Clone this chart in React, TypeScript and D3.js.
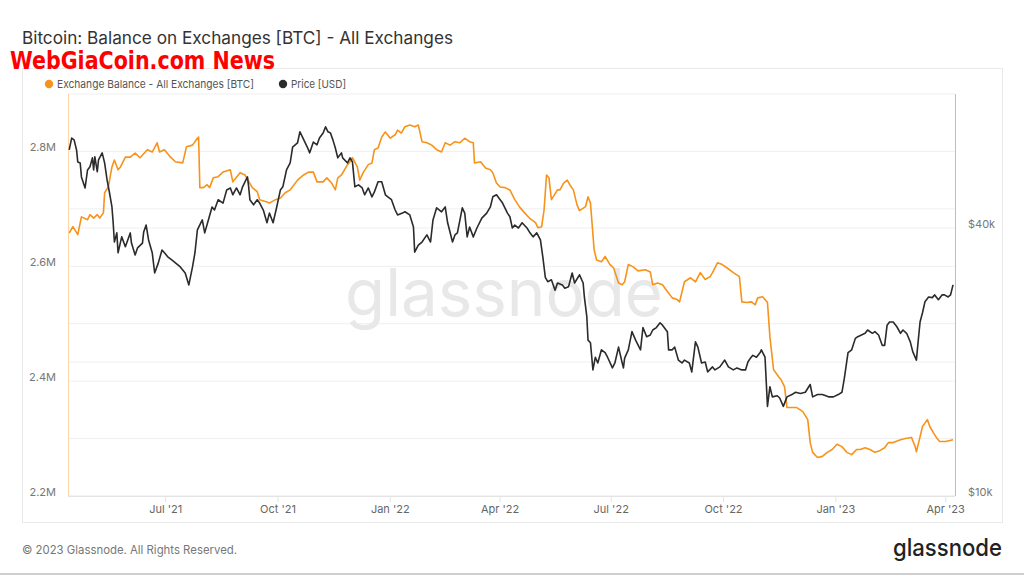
import React from "react";
import * as d3 from "d3";

// ---------- DATA ----------
const balanceDates = [
"2021-04-13","2021-04-16","2021-04-20","2021-04-23","2021-04-28","2021-04-30","2021-05-03","2021-05-06","2021-05-08","2021-05-11",
"2021-05-12","2021-05-15","2021-05-18","2021-05-20","2021-05-23","2021-05-25","2021-05-29","2021-06-02","2021-06-06","2021-06-10",
"2021-06-16","2021-06-20","2021-06-24","2021-06-26","2021-06-30","2021-07-05","2021-07-09","2021-07-15","2021-07-18","2021-07-23",
"2021-07-27","2021-07-28","2021-07-29","2021-08-01","2021-08-04","2021-08-06","2021-08-09","2021-08-13","2021-08-17","2021-08-23",
"2021-08-25","2021-08-31","2021-09-04","2021-09-10","2021-09-14","2021-09-16","2021-09-22","2021-09-24","2021-09-29","2021-10-03",
"2021-10-07","2021-10-11","2021-10-17","2021-10-22","2021-10-26","2021-10-30","2021-11-02","2021-11-07","2021-11-10","2021-11-14",
"2021-11-17","2021-11-19","2021-11-22","2021-11-27","2021-11-29","2021-12-01","2021-12-05","2021-12-07","2021-12-10","2021-12-14",
"2021-12-17","2021-12-19","2021-12-22","2021-12-25","2021-12-28","2022-01-01","2022-01-05","2022-01-07","2022-01-10","2022-01-13",
"2022-01-17","2022-01-21","2022-01-24","2022-01-27","2022-01-31","2022-02-04","2022-02-08","2022-02-12","2022-02-15","2022-02-19",
"2022-02-23","2022-02-27","2022-03-03","2022-03-07","2022-03-10","2022-03-11","2022-03-16","2022-03-20","2022-03-24","2022-03-26",
"2022-03-29","2022-04-01","2022-04-05","2022-04-09","2022-04-13","2022-04-17","2022-04-21","2022-04-25","2022-04-30","2022-05-02",
"2022-05-05","2022-05-07","2022-05-09","2022-05-11","2022-05-13","2022-05-18","2022-05-20","2022-05-23","2022-05-26","2022-05-28",
"2022-05-31","2022-06-03","2022-06-05","2022-06-10","2022-06-12","2022-06-14","2022-06-17","2022-06-19","2022-06-23","2022-06-26",
"2022-06-30","2022-07-03","2022-07-07","2022-07-10","2022-07-12","2022-07-15","2022-07-19","2022-07-23","2022-07-29","2022-08-02",
"2022-08-04","2022-08-08","2022-08-12","2022-08-16","2022-08-20","2022-08-24","2022-08-26","2022-08-30","2022-09-04","2022-09-08",
"2022-09-12","2022-09-16","2022-09-20","2022-09-22","2022-09-26","2022-09-30","2022-10-04","2022-10-09","2022-10-14","2022-10-16",
"2022-10-20","2022-10-24","2022-10-27","2022-10-29","2022-11-02","2022-11-06","2022-11-08","2022-11-11","2022-11-15","2022-11-17",
"2022-11-20","2022-11-22","2022-11-24","2022-11-30","2022-12-05","2022-12-09","2022-12-11","2022-12-13","2022-12-17","2022-12-21",
"2022-12-25","2022-12-29","2023-01-02","2023-01-06","2023-01-10","2023-01-14","2023-01-18","2023-01-21","2023-01-25","2023-01-29",
"2023-02-02","2023-02-06","2023-02-10","2023-02-13","2023-02-17","2023-02-23","2023-02-27","2023-03-04","2023-03-07","2023-03-08",
"2023-03-11","2023-03-13","2023-03-17","2023-03-19","2023-03-22","2023-03-25","2023-03-27","2023-04-01","2023-04-07"
];

// Exchange balance, millions of BTC
const balanceMillions = [
2.658,2.669,2.655,2.686,2.681,2.690,2.684,2.690,2.684,2.693,
2.728,2.738,2.773,2.785,2.768,2.773,2.790,2.790,2.797,2.789,
2.803,2.799,2.815,2.799,2.803,2.790,2.782,2.780,2.808,2.811,
2.823,2.825,2.737,2.737,2.742,2.737,2.754,2.756,2.764,2.768,
2.747,2.763,2.759,2.737,2.730,2.716,2.712,2.710,2.716,2.719,
2.728,2.733,2.750,2.759,2.764,2.764,2.747,2.747,2.754,2.745,
2.733,2.754,2.759,2.777,2.782,2.789,2.773,2.750,2.764,2.777,
2.780,2.803,2.806,2.825,2.834,2.823,2.829,2.837,2.832,2.843,
2.846,2.843,2.846,2.817,2.815,2.811,2.803,2.799,2.815,2.811,
2.817,2.815,2.823,2.817,2.815,2.780,2.782,2.771,2.768,2.763,
2.745,2.738,2.737,2.733,2.716,2.703,2.693,2.684,2.676,2.667,
2.669,2.698,2.759,2.754,2.716,2.733,2.733,2.745,2.750,2.742,
2.733,2.707,2.697,2.704,2.721,2.710,2.629,2.611,2.608,2.617,
2.603,2.597,2.571,2.568,2.573,2.603,2.599,2.592,2.594,2.590,
2.568,2.571,2.568,2.556,2.545,2.542,2.538,2.573,2.580,2.573,
2.589,2.577,2.582,2.589,2.606,2.603,2.597,2.589,2.582,2.538,
2.537,2.538,2.533,2.545,2.547,2.537,2.477,2.420,2.408,2.403,
2.390,2.354,2.354,2.354,2.347,2.333,2.293,2.276,2.267,2.269,
2.276,2.281,2.290,2.286,2.276,2.272,2.281,2.281,2.284,2.281,
2.276,2.279,2.284,2.293,2.293,2.298,2.300,2.302,2.286,2.277,
2.303,2.321,2.333,2.321,2.310,2.300,2.295,2.295,2.298
];

const priceDates = [
"2021-04-13","2021-04-15","2021-04-17","2021-04-19","2021-04-20","2021-04-22","2021-04-23","2021-04-26","2021-04-28","2021-04-30",
"2021-05-02","2021-05-03","2021-05-04","2021-05-06","2021-05-07","2021-05-10","2021-05-11","2021-05-12","2021-05-14","2021-05-16",
"2021-05-18","2021-05-19","2021-05-20","2021-05-22","2021-05-23","2021-05-26","2021-05-29","2021-06-02","2021-06-03","2021-06-06",
"2021-06-08","2021-06-12","2021-06-13","2021-06-15","2021-06-17","2021-06-20","2021-06-22","2021-06-25","2021-06-28","2021-06-30",
"2021-07-03","2021-07-06","2021-07-09","2021-07-13","2021-07-17","2021-07-20","2021-07-23","2021-07-25","2021-07-27","2021-07-31",
"2021-08-02","2021-08-05","2021-08-08","2021-08-10","2021-08-13","2021-08-17","2021-08-20","2021-08-23","2021-08-25","2021-08-28",
"2021-08-31","2021-09-02","2021-09-06","2021-09-07","2021-09-08","2021-09-11","2021-09-14","2021-09-16","2021-09-19","2021-09-22",
"2021-09-24","2021-09-27","2021-09-30","2021-10-03","2021-10-05","2021-10-08","2021-10-11","2021-10-13","2021-10-17","2021-10-19",
"2021-10-21","2021-10-25","2021-10-27","2021-10-30","2021-11-02","2021-11-04","2021-11-07","2021-11-09","2021-11-11","2021-11-13",
"2021-11-15","2021-11-17","2021-11-19","2021-11-22","2021-11-23","2021-11-27","2021-11-29","2021-12-01","2021-12-03","2021-12-06",
"2021-12-09","2021-12-11","2021-12-14","2021-12-17","2021-12-19","2021-12-22","2021-12-25","2021-12-28","2021-12-30","2022-01-02",
"2022-01-05","2022-01-07","2022-01-11","2022-01-13","2022-01-17","2022-01-20","2022-01-21","2022-01-24","2022-01-27","2022-01-31",
"2022-02-03","2022-02-05","2022-02-08","2022-02-12","2022-02-15","2022-02-17","2022-02-21","2022-02-23","2022-02-25","2022-03-01",
"2022-03-03","2022-03-05","2022-03-07","2022-03-10","2022-03-13","2022-03-17","2022-03-21","2022-03-24","2022-03-26","2022-03-29",
"2022-04-01","2022-04-03","2022-04-07","2022-04-09","2022-04-11","2022-04-13","2022-04-16","2022-04-19","2022-04-23","2022-04-25",
"2022-04-28","2022-05-01","2022-05-04","2022-05-06","2022-05-08","2022-05-10","2022-05-13","2022-05-16","2022-05-18","2022-05-22",
"2022-05-24","2022-05-27","2022-05-30","2022-06-01","2022-06-05","2022-06-08","2022-06-09","2022-06-11","2022-06-12","2022-06-14",
"2022-06-16","2022-06-18","2022-06-20","2022-06-23","2022-06-26","2022-06-28","2022-07-02","2022-07-04","2022-07-07","2022-07-10",
"2022-07-11","2022-07-12","2022-07-15","2022-07-18","2022-07-21","2022-07-25","2022-07-27","2022-07-30","2022-08-02","2022-08-04",
"2022-08-07","2022-08-10","2022-08-12","2022-08-16","2022-08-17","2022-08-20","2022-08-22","2022-08-25","2022-08-28","2022-08-30",
"2022-09-03","2022-09-05","2022-09-08","2022-09-10","2022-09-13","2022-09-16","2022-09-18","2022-09-22","2022-09-24","2022-09-28",
"2022-10-02","2022-10-05","2022-10-09","2022-10-12","2022-10-16","2022-10-19","2022-10-21","2022-10-23","2022-10-25","2022-10-28",
"2022-10-31","2022-11-01","2022-11-04","2022-11-06","2022-11-08","2022-11-10","2022-11-14","2022-11-16","2022-11-19","2022-11-22",
"2022-11-26","2022-11-29","2022-12-03","2022-12-07","2022-12-11","2022-12-13","2022-12-17","2022-12-21","2022-12-26","2022-12-30",
"2023-01-03","2023-01-06","2023-01-08","2023-01-11","2023-01-14","2023-01-17","2023-01-19","2023-01-22","2023-01-25","2023-01-27",
"2023-01-31","2023-02-02","2023-02-05","2023-02-08","2023-02-10","2023-02-12","2023-02-14","2023-02-17","2023-02-20","2023-02-23",
"2023-02-25","2023-02-28","2023-03-03","2023-03-05","2023-03-08","2023-03-09","2023-03-11","2023-03-13","2023-03-15","2023-03-18",
"2023-03-21","2023-03-23","2023-03-26","2023-03-29","2023-03-31","2023-04-03","2023-04-05","2023-04-07"
];

// BTC price, USD
const priceUSD = [
59900,63700,63100,59900,56300,56000,52100,49200,54000,54900,
57500,54000,57800,53500,56900,59000,57500,56000,51300,48000,
44600,41100,37200,39000,35200,38200,36300,39000,37000,34800,
36100,37000,39200,40600,37600,35200,31700,33400,35700,35200,
34400,33900,33400,32700,31700,29800,32700,35200,39600,41700,
39000,41700,44600,43900,46300,45500,48700,49200,47500,49200,
47500,49500,52100,49500,46300,45100,46300,45500,43900,41100,
43200,41100,44600,48700,49500,54000,56000,60800,62100,65800,
64100,60800,59000,62400,61500,63700,65400,67500,65800,65400,
63100,60500,57500,59000,57500,56000,57500,56300,49500,50000,
49200,47500,49200,47000,48200,50800,50800,47500,47000,46300,
43900,42800,43200,43500,42800,40200,35300,36600,37200,38600,
37200,41700,44400,43500,44600,41100,37200,38600,39000,44400,
43200,38200,40200,38200,40000,42100,43200,44600,47000,47500,
46300,45500,43200,42400,40000,40600,40000,41100,40000,39200,
38200,39000,37600,34400,31000,30300,30600,29000,30100,29800,
29300,29500,31700,30100,31400,30100,28000,25300,22400,22100,
19200,20500,19900,21300,21000,20500,19400,19900,21600,19900,
19400,20400,21300,23400,22400,21300,23900,22800,23000,23600,
23900,24500,24200,23400,21300,21300,21600,20200,19900,20200,
19900,19000,22200,21600,19900,20000,19000,19500,19200,19500,
20200,19500,19200,19400,19200,19200,20000,20400,20700,20500,
21000,21300,20500,15900,17600,16700,16800,16600,15900,16700,
16900,17100,17000,17100,17800,16700,16900,16900,16700,16700,
16900,17100,18400,21000,21300,22600,22800,23000,23200,23600,
23200,23400,23000,21800,21800,24200,24600,24600,24000,23200,
23600,23200,22200,21100,20200,21600,24600,25800,27300,28000,
27900,28300,27600,28300,28300,28000,28300,29800
];

const balanceTickValues = [2.2, 2.4, 2.6, 2.8];
const balanceGridValues = [2.2, 2.3, 2.4, 2.5, 2.6, 2.7, 2.8, 2.9];
const priceTickValues = [10000, 40000];
const priceGridValues = [10000, 20000, 40000];
const seriesNames = ["Exchange Balance - All Exchanges [BTC]", "Price [USD]"];

const FONT = "Inter, 'Noto Sans', sans-serif";
const ORANGE = "#f7931a";
const BLACK = "#2b2b2b";

export default function App() {
  const W = 1024, H = 576;
  const L = 68, R = 955, T = 94, B = 496;

  const x = d3.scaleUtc()
    .domain([new Date("2021-04-12T00:00:00Z"), new Date("2023-04-08T15:00:00Z")])
    .range([L, R]);
  const yL = d3.scaleLinear().domain([2.2, 2.9]).range([B, T]);
  const yR = d3.scaleLog().domain([10000, 80000]).range([B, T]);

  const balance = balanceDates.map((d, i) => ({ date: new Date(d + "T00:00:00Z"), v: balanceMillions[i] }));
  const price = priceDates.map((d, i) => ({ date: new Date(d + "T00:00:00Z"), v: priceUSD[i] }));

  const balLine = d3.line<any>().x(d => x(d.date)).y(d => yL(d.v));
  const priceLine = d3.line<any>().x(d => x(d.date)).y(d => yR(d.v));

  const xTicks = x.ticks(d3.utcMonth.every(3) as any);
  const fmtX = d3.utcFormat("%b '%y");
  const fmtPrice = (v: number) => "$" + d3.format("~s")(v);

  return (
    <svg width={W} height={H} style={{ position: "absolute", left: 0, top: 0, background: "#fff" }} fontFamily={FONT}>
      <rect x={0} y={0} width={W} height={H} fill="#fff" />
      {/* title */}
      <text x={22} y={44} fontSize={17} fill="#333" textLength={431} lengthAdjust="spacingAndGlyphs">
        Bitcoin: Balance on Exchanges [BTC] - All Exchanges
      </text>
      {/* card */}
      <rect x={22.5} y={68.5} width={980} height={454} fill="none" stroke="#e9e9e9" />
      {/* legend */}
      <circle cx={49} cy={84} r={4.2} fill={ORANGE} />
      <text x={57} y={88} fontSize={11} fill="#555" textLength={197} lengthAdjust="spacingAndGlyphs">{seriesNames[0]}</text>
      <circle cx={283} cy={84} r={4.2} fill={BLACK} />
      <text x={291} y={88} fontSize={11} fill="#555" textLength={55} lengthAdjust="spacingAndGlyphs">{seriesNames[1]}</text>

      {/* grid */}
      {balanceGridValues.map(v => (
        <line key={"gl" + v} x1={L} x2={R} y1={yL(v)} y2={yL(v)} stroke="#efefef" />
      ))}
      {priceGridValues.map(v => (
        <line key={"gr" + v} x1={L} x2={R} y1={yR(v)} y2={yR(v)} stroke="#efefef" />
      ))}

      {/* watermark */}
      <text x={345} y={316} fontSize={66} fill="#e8e8e8" textLength={318} lengthAdjust="spacingAndGlyphs">glassnode</text>

      {/* axes lines */}
      <line x1={L} x2={R} y1={B + 0.5} y2={B + 0.5} stroke="#e4e4e4" />
      <line x1={L + 0.5} x2={L + 0.5} y1={T} y2={B} stroke="#fcd6a8" />
      <line x1={R + 0.5} x2={R + 0.5} y1={T} y2={B} stroke="#bdbdbd" />
      {xTicks.map(t => (
        <g key={"xt" + t.getTime()}>
          <line x1={x(t)} x2={x(t)} y1={B} y2={B + 6} stroke="#e4e4e4" />
          <text x={x(t)} y={513} fontSize={11} fill="#666" textAnchor="middle">{fmtX(t)}</text>
        </g>
      ))}
      {balanceTickValues.map(v => (
        <text key={"lt" + v} x={56} y={yL(v) - 0.5} fontSize={11} fill="#777" textAnchor="end">{v.toFixed(1) + "M"}</text>
      ))}
      {priceTickValues.map(v => (
        <text key={"rt" + v} x={968} y={yR(v) - 0.5} fontSize={11} fill="#777">{fmtPrice(v)}</text>
      ))}

      {/* series */}
      <path d={balLine(balance) || ""} fill="none" stroke={ORANGE} strokeWidth={1.6} strokeLinejoin="round" />
      <path d={priceLine(price) || ""} fill="none" stroke={BLACK} strokeWidth={1.6} strokeLinejoin="round" />

      {/* overlay watermark text */}
      <text x={10} y={69} fontSize={25} fontWeight={900} fill="#f00" fontFamily="'DejaVu Sans Condensed', 'DejaVu Sans', sans-serif"
        textLength={265} lengthAdjust="spacingAndGlyphs">WebGiaCoin.com News</text>

      {/* footer */}
      <text x={22} y={554} fontSize={12} fill="#777" textLength={215} lengthAdjust="spacingAndGlyphs">© 2023 Glassnode. All Rights Reserved.</text>
      <text x={893} y={556} fontSize={24} fill="#222" fontWeight={500} textLength={109} lengthAdjust="spacingAndGlyphs">glassnode</text>
      <rect x={0} y={573} width={W} height={2} fill="#cfcfcf" />
    </svg>
  );
}
